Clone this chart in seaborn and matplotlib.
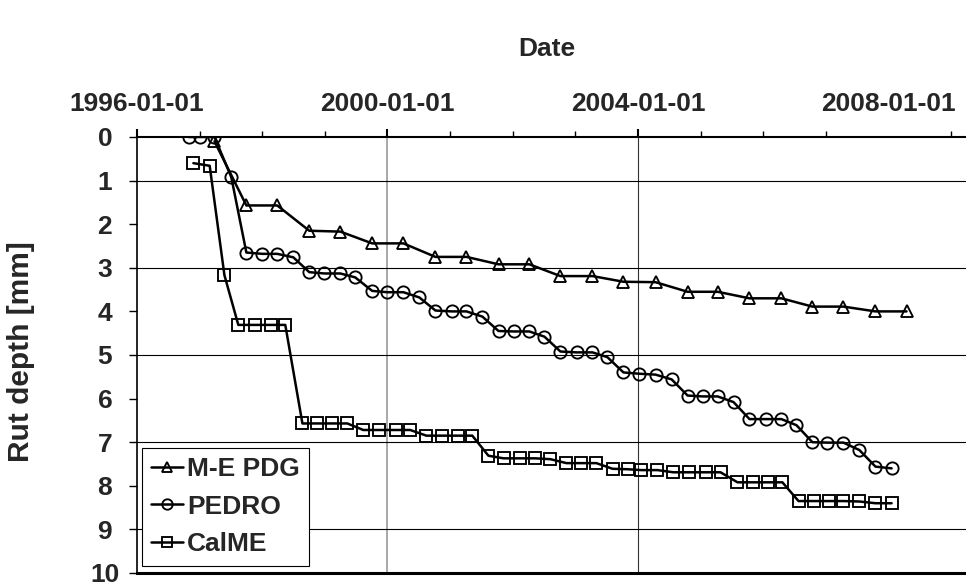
import matplotlib
matplotlib.use("Agg")
import matplotlib.pyplot as plt
import matplotlib.dates as mdates
from matplotlib.ticker import FixedLocator
import pandas as pd
import seaborn as sns

# ---------------- data ----------------
series_names = ["M-E PDG", "PEDRO", "CalME"]
series_markers = ["^", "o", "s"]

mepdg_dates = ["1997-03-28", "1997-09-30", "1998-03-29", "1998-10-02", "1999-04-01",
               "1999-10-04", "2000-04-03", "2000-10-07", "2001-04-06", "2001-10-10",
               "2002-04-08", "2002-10-06", "2003-04-11", "2003-10-09", "2004-04-13",
               "2004-10-17", "2005-04-10", "2005-10-13", "2006-04-17", "2006-10-15",
               "2007-04-14", "2007-10-18", "2008-04-16"]
mepdg_rut = [0.10, 1.57, 1.57, 2.15, 2.17, 2.44, 2.44, 2.75, 2.75, 2.92, 2.92, 3.19,
             3.19, 3.32, 3.33, 3.55, 3.55, 3.70, 3.70, 3.89, 3.89, 4.00, 4.00]

pedro_dates = ["1996-10-28", "1997-01-01", "1997-03-28", "1997-07-04", "1997-09-30",
               "1998-01-02", "1998-03-29", "1998-07-01", "1998-10-02", "1998-12-29",
               "1999-04-01", "1999-06-27", "1999-10-04", "2000-01-01", "2000-04-03",
               "2000-07-05", "2000-10-07", "2001-01-09", "2001-04-06", "2001-07-08",
               "2001-10-10", "2002-01-06", "2002-04-08", "2002-07-05", "2002-10-06",
               "2003-01-08", "2003-04-11", "2003-07-07", "2003-10-09", "2004-01-10",
               "2004-04-13", "2004-07-16", "2004-10-17", "2005-01-13", "2005-04-10",
               "2005-07-12", "2005-10-13", "2006-01-15", "2006-04-17", "2006-07-14",
               "2006-10-15", "2007-01-11", "2007-04-14", "2007-07-16", "2007-10-18",
               "2008-01-20"]
pedro_rut = [0.00, 0.00, 0.00, 0.92, 2.65, 2.68, 2.68, 2.76, 3.10, 3.13, 3.13, 3.22,
             3.53, 3.56, 3.56, 3.68, 3.98, 4.00, 4.00, 4.12, 4.45, 4.46, 4.46, 4.58,
             4.92, 4.94, 4.94, 5.05, 5.40, 5.43, 5.45, 5.56, 5.93, 5.95, 5.95, 6.08,
             6.47, 6.47, 6.47, 6.61, 7.00, 7.01, 7.01, 7.18, 7.56, 7.60]

calme_dates = ["1996-11-25", "1997-02-28", "1997-05-25", "1997-08-14", "1997-11-22",
               "1998-02-18", "1998-05-15", "1998-08-23", "1998-11-18", "1999-02-14",
               "1999-05-12", "1999-08-13", "1999-11-15", "2000-02-17", "2000-05-13",
               "2000-08-15", "2000-11-12", "2001-02-13", "2001-05-10", "2001-08-12",
               "2001-11-08", "2002-02-10", "2002-05-13", "2002-08-09", "2002-11-10",
               "2003-02-06", "2003-05-04", "2003-08-06", "2003-11-02", "2004-01-22",
               "2004-04-24", "2004-07-26", "2004-10-27", "2005-01-30", "2005-04-27",
               "2005-08-04", "2005-10-31", "2006-01-27", "2006-04-23", "2006-07-26",
               "2006-10-22", "2007-01-18", "2007-04-14", "2007-07-16", "2007-10-18",
               "2008-01-20"]
calme_rut = [0.60, 0.66, 3.17, 4.31, 4.31, 4.31, 4.31, 6.57, 6.57, 6.57, 6.57, 6.72,
             6.72, 6.72, 6.72, 6.85, 6.85, 6.85, 6.85, 7.31, 7.37, 7.37, 7.37, 7.39,
             7.48, 7.48, 7.48, 7.61, 7.62, 7.64, 7.64, 7.69, 7.69, 7.69, 7.69, 7.92,
             7.92, 7.92, 7.92, 8.35, 8.35, 8.35, 8.35, 8.36, 8.40, 8.40]

x_tick_labels = ["1996-01-01", "2000-01-01", "2004-01-01", "2008-01-01"]
x_minor_years = list(range(1997, 2010))
x_range = ["1996-01-01", "2009-03-29"]
y_ticks = list(range(0, 11))

x_title = "Date"
y_title = "Rut depth [mm]"

# ---------------- style ----------------
sns.set_style("white")
plt.rcParams["font.family"] = ["Liberation Sans", "DejaVu Sans"]
plt.rcParams["font.weight"] = "bold"
FS = 19

fig = plt.figure(figsize=(9.66, 5.85), dpi=100)
ax = fig.add_axes([137 / 966, 12 / 585, 829 / 966, 436 / 585])

all_dates = [mepdg_dates, pedro_dates, calme_dates]
all_vals = [mepdg_rut, pedro_rut, calme_rut]
for name, mk, d, v in zip(series_names, series_markers, all_dates, all_vals):
    sns.lineplot(x=pd.to_datetime(d), y=v, marker=mk, label=name, ax=ax,
                 color="black", linewidth=1.8, markersize=8.8,
                 markeredgewidth=1.35, markeredgecolor="black",
                 markerfacecolor="none", errorbar=None)

ax.set_ylim(10, 0)
ax.set_xlim(pd.Timestamp(x_range[0]), pd.Timestamp(x_range[1]))

ax.xaxis.tick_top()
ax.xaxis.set_label_position("top")
ax.xaxis.set_major_locator(FixedLocator([mdates.date2num(pd.Timestamp(s)) for s in x_tick_labels]))
ax.xaxis.set_major_formatter(mdates.DateFormatter("%Y-%m-%d"))
ax.xaxis.set_minor_locator(FixedLocator([mdates.date2num(pd.Timestamp(f"{y}-01-01")) for y in x_minor_years]))
ax.set_yticks(y_ticks)

ax.tick_params(axis="x", which="major", direction="out", length=5.8, width=1.5,
               pad=9.5, labelsize=FS, top=True, bottom=False,
               labeltop=True, labelbottom=False, color="black")
ax.tick_params(axis="x", which="minor", direction="out", length=4.3, width=1.0,
               top=True, bottom=False, color="black")
ax.tick_params(axis="y", which="major", direction="out", length=5.8, width=1.0,
               pad=17.3, labelsize=FS, left=True, right=False, color="black")

ax.grid(True, which="major", axis="both", color="black", linewidth=0.8)
for val, t in zip(y_ticks, ax.yaxis.get_major_ticks()):
    t.label1.set_horizontalalignment("center")
    if val % 2 == 0:
        t.gridline.set_visible(False)
xt = ax.xaxis.get_major_ticks()
xt[0].gridline.set_visible(False)
xt[1].gridline.set_color("#999999")
xt[1].gridline.set_linewidth(1.2)
xt[2].gridline.set_color("#333333")
xt[3].gridline.set_visible(False)
xt[3].tick2line.set_visible(False)

for side, lw in [("top", 1.5), ("bottom", 2.2), ("left", 1.2)]:
    ax.spines[side].set_linewidth(lw)
    ax.spines[side].set_color("black")
ax.spines["right"].set_visible(False)

ax.set_xlabel(x_title, fontsize=FS, fontweight="bold")
ax.xaxis.set_label_coords(0.4946, 1.186)
ax.set_ylabel(y_title, fontsize=21.5, fontweight="bold")
ax.yaxis.set_label_coords(-0.1225, 0.508)

leg = ax.legend(loc="upper left",
                bbox_to_anchor=((142 - 137) / 829, (573 - 447.7) / 436),
                borderaxespad=0, frameon=True, fancybox=False, edgecolor="black",
                framealpha=1, prop={"size": FS, "weight": "bold"},
                handlelength=1.2, handletextpad=0.15, borderpad=0.35,
                labelspacing=0.52, markerscale=0.85)
leg.get_frame().set_linewidth(0.8)

fig.savefig("out.png", dpi=100)
